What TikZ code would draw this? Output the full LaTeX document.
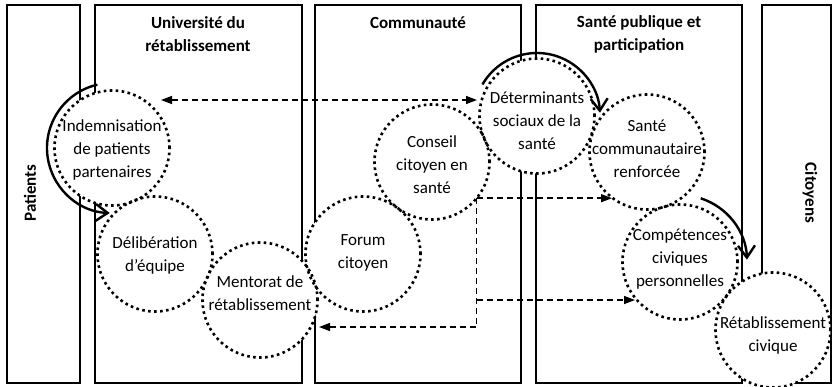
\documentclass[tikz,border=0pt]{standalone}
\usepackage{fontspec}
\setmainfont{Carlito}
\usetikzlibrary{arrows.meta}
\begin{document}
\begin{tikzpicture}[x=1pt,y=-1pt,
  frame/.style={draw=black,line width=1.3pt},
  ttl/.style={font=\fontsize{17}{23}\selectfont\bfseries,align=center,inner sep=0pt},
  bubfill/.style={circle,fill=white,minimum size=115pt,inner sep=0pt,outer sep=0pt},
  dots/.style={line width=2.6pt,dash pattern=on 2.6pt off 3.4pt},
  lbl/.style={font=\fontsize{17}{23}\selectfont,align=center,inner sep=0pt},
  cyc/.style={line width=2.4pt,-{Straight Barb[length=12pt,width=17pt]}},
  link/.style={line width=1.4pt,dash pattern=on 6pt off 4pt},
  tip/.style={-{Triangle[length=11pt,width=8pt]}},
  tips/.style={{Triangle[length=11pt,width=8pt]}-{Triangle[length=11pt,width=8pt]}}
]
\useasboundingbox (0,0) rectangle (834,386);
\fill[white] (0,0) rectangle (834,386);
% column frames
\draw[frame] (7,5) rectangle (80,383);
\draw[frame] (95,5) rectangle (302,383);
\draw[frame] (315,5) rectangle (521,383);
\draw[frame] (536,5) rectangle (742,383);
\draw[frame] (762,5) rectangle (831,383);
% titles
\node[ttl,rotate=90] (tpat) at (30,193) {Patients};
\node[ttl] (tuni) at (198,34) {Université du\\rétablissement};
\node[ttl] (tcom) at (418,23) {Communauté};
\node[ttl] (tsan) at (639,34) {Santé publique et\\participation};
\node[ttl,rotate=-90] (tcit) at (810,193) {Citoyens};
% bubbles (white fill)
\node[bubfill] (ind) at (112,148) {};
\node[bubfill] (del) at (155,254) {};
\node[bubfill] (men) at (260,300) {};
\node[bubfill] (frm) at (363,254) {};
\node[bubfill] (con) at (432,162) {};
\node[bubfill] (det) at (537,116) {};
\node[bubfill] (sco) at (647,152) {};
\node[bubfill] (cpt) at (680,262) {};
\node[bubfill] (ret) at (773,330) {};
\foreach \b in {ind,del,men,frm,con,det,sco,cpt,ret}
  \draw[dots] (\b) circle[radius=57.5pt];
% bubble texts
\node[lbl] (tind) at (112,150) {Indemnisation\\de patients\\partenaires};
\node[lbl] (tdel) at (155,255) {Délibération\\d’équipe};
\node[lbl] (tmen) at (260,293) {Mentorat de\\rétablissement};
\node[lbl] (tfrm) at (363,253) {Forum\\citoyen};
\node[lbl] (tcon) at (432,165) {Conseil\\citoyen en\\santé};
\node[lbl] (tdet) at (537,121) {Déterminants\\sociaux de la\\santé};
\node[lbl] (tsco) at (647,149) {Santé\\communautaire\\renforcée};
\node[lbl] (tcpt) at (680,259) {Compétences\\civiques\\personnelles};
\node[lbl] (tret) at (773,335) {Rétablissement\\civique};
% dashed links
\coordinate (dl) at (161,100);
\coordinate (dr) at (477,100);
\draw[link,tips] (dl) -- (dr);
\coordinate (J) at (con.-39);
\coordinate (aS) at (612,0);
\coordinate (mT) at (319,327);
\coordinate (cT) at (635,300);
\draw[link,tip] (J) -- (J -| aS);
\draw[link,tip] (J) -- (J |- mT) -- (mT);
\draw[link,tip] (J |- cT) -- (cT);
% solid cycle arrows
\draw[cyc] (ind.center) ++(257:65) arc[start angle=257,end angle=92,radius=65];
\draw[cyc] (det.center) ++(210:63) arc[start angle=210,end angle=357,radius=63];
\draw[cyc] (cpt.center) ++(288:67) arc[start angle=288,end angle=358,radius=67];
\end{tikzpicture}
\end{document}
